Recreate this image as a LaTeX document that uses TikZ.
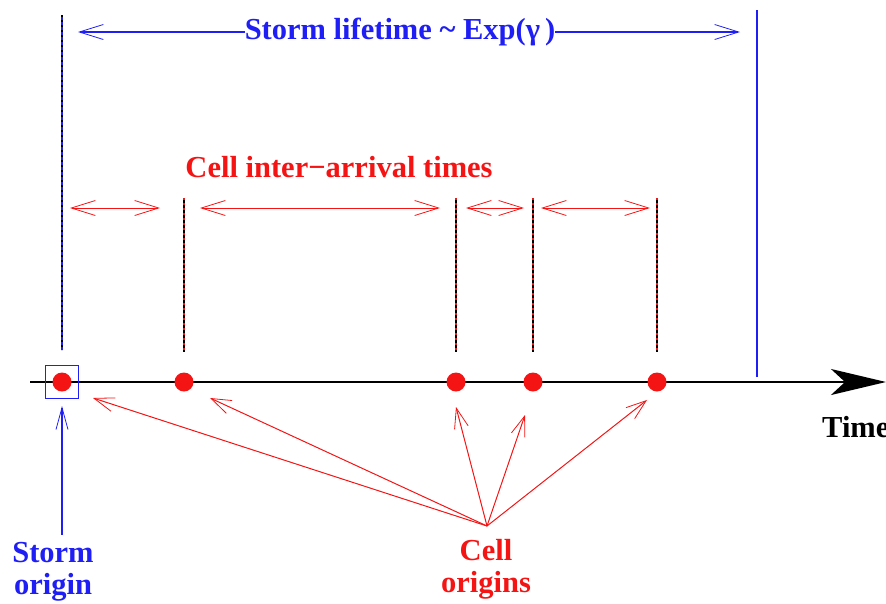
\documentclass[tikz,border=0pt]{standalone}
\usepackage{fontspec}
\setmainfont{Liberation Serif}[BoldFont={Liberation Serif Bold}]
\usetikzlibrary{arrows.meta}
\definecolor{myblue}{RGB}{30,30,245}
\definecolor{myred}{RGB}{245,20,20}
\tikzset{
  lbl/.style={font=\rmfamily\bfseries\fontsize{30.5}{32}\selectfont, inner sep=0pt, align=center},
  redarr/.style={draw=myred, line width=1pt, {Straight Barb[length=24pt,width=15pt,line width=0.8pt]}-{Straight Barb[length=24pt,width=15pt,line width=0.8pt]}},
  redone/.style={draw=myred, line width=1pt, -{Straight Barb[length=20pt,width=14pt,line width=0.8pt]}},
  bluearr/.style={draw=myblue, line width=1.3pt},
  celldot/.style={circle, fill=myred, minimum size=19pt, inner sep=0pt},
}
\begin{document}
\begin{tikzpicture}[x=1pt,y=-1pt]
\useasboundingbox (0,0) rectangle (886,603);
% axis
\coordinate (axL) at (30,382);
\coordinate (axR) at (886,382);
\draw[line width=2pt, -{Stealth[length=55pt,width=26pt,inset=14pt]}] (axL) -- (axR);
\node[lbl, anchor=west] (time) at (822,427) {Time};
% dots
\node[celldot] (d0) at (62,382) {};
\node[celldot] (d1) at (184,382) {};
\node[celldot] (d2) at (456,382) {};
\node[celldot] (d3) at (533,382) {};
\node[celldot] (d4) at (657,382) {};
\node[draw=myblue, line width=1.5pt, minimum size=33pt, inner sep=0pt] (box) at (62,382) {};
% vertical lines
\coordinate (v0t) at (62,15); \coordinate (v0b) at (62,350);
\draw[myblue, line width=1.3pt] (v0t) -- (v0b);
\draw[black, line width=1.3pt, dash pattern=on 2pt off 3pt] (v0t) -- (v0b);
\foreach \x [count=\i] in {184,456,533,657}{
  \coordinate (c\i t) at (\x,198); \coordinate (c\i b) at (\x,352);
  \draw[black, line width=1.3pt] (c\i t) -- (c\i b);
  \draw[myred, line width=1.3pt, dash pattern=on 2pt off 3pt] (c\i t) -- (c\i b);
}
\coordinate (endt) at (757,10); \coordinate (endb) at (757,377);
\draw[myblue, line width=1.5pt] (endt) -- (endb);
% storm lifetime
\node[lbl, text=myblue] (life) at (400,32) {Storm lifetime \char"007E{} Exp(γ\,)};
\coordinate (lifeL) at (78,32); \coordinate (lifeR) at (740,32);
\draw[bluearr, -{Straight Barb[length=24pt,width=15pt,line width=0.8pt]}] (life.west) -- (lifeL);
\draw[bluearr, -{Straight Barb[length=24pt,width=15pt,line width=0.8pt]}] (life.east) -- (lifeR);
% cell inter-arrival
\node[lbl, text=myred] (inter) at (339,167) {Cell inter−arrival times};
\coordinate (a1l) at (70,208); \coordinate (a1r) at (160,208);
\coordinate (a2l) at (200,208); \coordinate (a2r) at (440,208);
\coordinate (a3l) at (466,208); \coordinate (a3r) at (524,208);
\coordinate (a4l) at (541,208); \coordinate (a4r) at (650,208);
\draw[redarr] (a1l) -- (a1r);
\draw[redarr] (a2l) -- (a2r);
\draw[redarr] (a3l) -- (a3r);
\draw[redarr] (a4l) -- (a4r);
% storm origin
\node[lbl, text=myblue] (sorig) at (53,572) {Storm\\origin};
\coordinate (sbot) at (62,535); \coordinate (stop) at (62,406);
\draw[bluearr, -{Straight Barb[length=22pt,width=12pt,line width=0.8pt]}] (sbot) -- (stop);
% cell origins
\node[lbl, text=myred] (corig) at (486,569) {Cell\\origins};
\coordinate (src) at (487,526);
\coordinate (t0) at (93,398); \coordinate (t1) at (210,398);
\coordinate (t2) at (456,407); \coordinate (t3) at (525,415); \coordinate (t4) at (647,400);
\foreach \t in {t0,t1,t2,t3,t4}{ \draw[redone] (src) -- (\t); }
\end{tikzpicture}
\end{document}
